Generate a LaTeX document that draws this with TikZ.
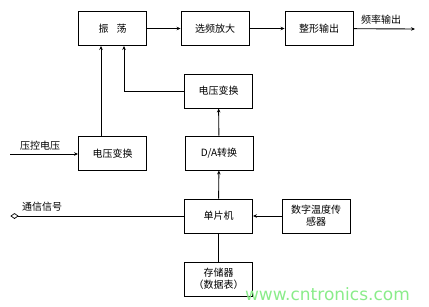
\documentclass[tikz,border=0pt]{standalone}
\usepackage{fontspec}
\newfontfamily\cjk{Noto Sans CJK SC}
\usetikzlibrary{arrows.meta}
\begin{document}
\begin{tikzpicture}[x=1pt,y=-1pt,
  blk/.style={draw,line width=0.9pt,minimum width=68pt,minimum height=34pt,inner sep=0pt,font=\cjk\fontsize{10}{12}\selectfont,align=center},
  lbl/.style={font=\cjk\fontsize{10}{12}\selectfont,inner sep=0pt},
  conn/.style={line width=0.9pt},
  arr/.style={conn,-{Stealth[length=4pt,width=3.5pt]}}]
\useasboundingbox (0,0) rectangle (429,306);
\node[blk] (osc) at (112.5,28.5) {振\hspace{0.8em}荡};
\node[blk] (amp) at (215,28.5) {选频放大};
\node[blk] (shape) at (319,28.5) {整形输出};
\node[blk] (vc2) at (218.5,91) {电压变换};
\node[blk] (vc1) at (112.5,153.5) {电压变换};
\node[blk] (da) at (219,153) {D/A转换};
\node[blk] (mcu) at (218.5,216) {单片机};
\node[blk] (sens) at (316,216) {数字温度传\\感器};
\node[blk] (mem) at (218.5,279) {存储器\\（数据表）};
\coordinate (fout) at (415,29);
\coordinate (vin) at (10,154);
\coordinate (com) at (18,216);
\node[lbl,anchor=south west] (foutl) at (361,25) {频率输出};
\node[lbl,anchor=south west] (vinl) at (20,150) {压控电压};
\node[lbl,anchor=south west] (coml) at (22,212) {通信信号};
\draw[arr] (osc) -- (amp);
\draw[arr] (amp) -- (shape);
\draw[arr] (shape) -- (fout);
\draw[arr] (vin) -- (vc1.west|-vin);
\draw[arr] (vc1.north-|101,0) -- (osc.south-|101,0);
\draw[arr] (vc2.west) -| (osc.south-|124,0);
\draw[arr] (da) -- (vc2);
\draw[arr] (mcu) -- (da);
\draw[arr] (sens) -- (mcu);
\draw[conn] (mcu) -- (mem);
\draw[conn] (mcu.west) -- (com);
\draw[line width=0.7pt] (com) -- ++(-3.5,-2.5) -- ++(-3.5,2.5) -- ++(3.5,2.5) -- cycle;
\node[font=\fontspec{DejaVu Sans}\fontsize{17}{20}\selectfont,text=green!45!white!85!gray,anchor=south east,inner sep=0pt] (wm) at (410,301) {www.cntronics.com};
\end{tikzpicture}
\end{document}
